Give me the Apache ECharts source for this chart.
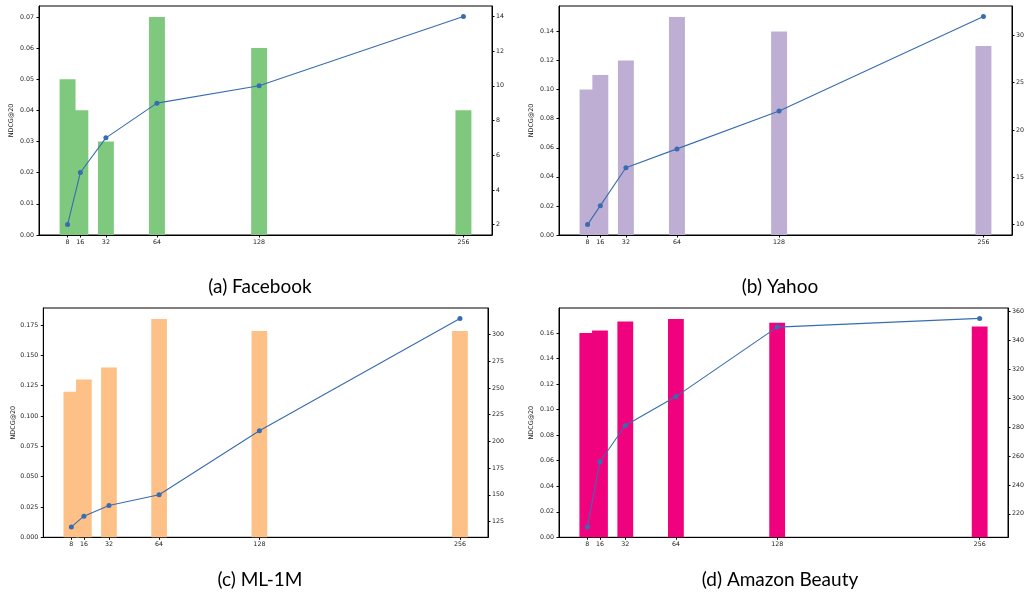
<!DOCTYPE html>
<html>
<head>
<meta charset="utf-8">
<script src="https://cdn.jsdelivr.net/npm/echarts@6/dist/echarts.min.js"></script>
<style>
html,body{margin:0;padding:0;background:#fff;}
#c{width:1033px;height:602px;}
</style>
</head>
<body>
<div id="c"></div>
<script>
// ---- data ----
const dims = [8, 16, 32, 64, 128, 256];
const xTicks = [8, 16, 32, 64, 128, 256];

const titles = ['(a) Facebook', '(b) Yahoo', '(c) ML-1M', '(d) Amazon Beauty'];
const barColors = ['#7fc97f', '#beaed4', '#fdc086', '#f0027f'];
const lineColor = '#386cb0';

const ndcgFacebook = [0.05, 0.04, 0.03, 0.07, 0.06, 0.04];
const ndcgYahoo = [0.10, 0.11, 0.12, 0.15, 0.14, 0.13];
const ndcgML1M = [0.12, 0.13, 0.14, 0.18, 0.17, 0.17];
const ndcgBeauty = [0.160, 0.162, 0.169, 0.171, 0.168, 0.165];

const timeFacebook = [2, 5, 7, 9, 10, 14];
const timeYahoo = [10, 12, 16, 18, 22, 32];
const timeML1M = [120, 130, 140, 150, 210, 315];
const timeBeauty = [211, 256, 281, 301, 349, 355];

const leftTicksFacebook = [0, 0.01, 0.02, 0.03, 0.04, 0.05, 0.06, 0.07];
const leftTicksYahoo = [0, 0.02, 0.04, 0.06, 0.08, 0.10, 0.12, 0.14];
const leftTicksML1M = [0, 0.025, 0.05, 0.075, 0.1, 0.125, 0.15, 0.175];
const leftTicksBeauty = [0, 0.02, 0.04, 0.06, 0.08, 0.10, 0.12, 0.14, 0.16];

const rightTicksFacebook = [2, 4, 6, 8, 10, 12, 14];
const rightTicksYahoo = [10, 15, 20, 25, 30];
const rightTicksML1M = [125, 150, 175, 200, 225, 250, 275, 300];
const rightTicksBeauty = [220, 240, 260, 280, 300, 320, 340, 360];

const leftDecimals = [2, 2, 3, 2];
const yLabel = 'NDCG@20';

// ---- layout ----
const panels = [
  {bars: ndcgFacebook, line: timeFacebook, lt: leftTicksFacebook, rt: rightTicksFacebook,
   grid: {left: 39, top: 6, width: 453, height: 229}, title: {x: 255, y: 272}},
  {bars: ndcgYahoo, line: timeYahoo, lt: leftTicksYahoo, rt: rightTicksYahoo,
   grid: {left: 559, top: 6, width: 453, height: 229}, title: {x: 775, y: 272}},
  {bars: ndcgML1M, line: timeML1M, lt: leftTicksML1M, rt: rightTicksML1M,
   grid: {left: 43.3, top: 308, width: 444.7, height: 229.3}, title: {x: 255, y: 565}},
  {bars: ndcgBeauty, line: timeBeauty, lt: leftTicksBeauty, rt: rightTicksBeauty,
   grid: {left: 559, top: 308, width: 449, height: 229.3}, title: {x: 775, y: 565}}
];

const barUnits = 10;
const xMinData = dims[0] - barUnits / 2, xMaxData = dims[dims.length - 1] + barUnits / 2;
const xMargin = 0.05 * (xMaxData - xMinData);
const xMin = xMinData - xMargin, xMax = xMaxData + xMargin;

const tickFont = {fontFamily: 'DejaVu Sans', fontSize: 6.3, color: '#222'};

const option = {
  animation: false,
  backgroundColor: '#fff',
  title: [], grid: [], xAxis: [], yAxis: [], series: []
};

panels.forEach((p, i) => {
  option.grid.push(Object.assign({show: true, borderColor: '#000', borderWidth: 1, containLabel: false}, p.grid));
  option.title.push({
    text: titles[i], left: p.title.x, top: p.title.y, textAlign: 'center',
    textStyle: {fontFamily: 'Lato', fontWeight: 'normal', fontSize: 19, color: '#000'}
  });
  option.xAxis.push({
    type: 'value', gridIndex: i, min: xMin, max: xMax,
    splitLine: {show: false},
    axisLine: {show: true, onZero: false, lineStyle: {color: '#000', width: 1}},
    axisTick: {show: true, length: 2.5, lineStyle: {color: '#000'}, customValues: xTicks},
    axisLabel: Object.assign({margin: 4, customValues: xTicks, formatter: v => String(v)}, tickFont)
  });
  const bmax = Math.max(...p.bars) * 1.05;
  const lmin = Math.min(...p.line), lmax = Math.max(...p.line);
  const lr = lmax - lmin;
  const dec = leftDecimals[i];
  option.yAxis.push({
    type: 'value', gridIndex: i, min: 0, max: bmax, position: 'left',
    name: yLabel, nameLocation: 'middle', nameRotate: 90, nameGap: 25,
    nameTextStyle: {fontFamily: 'DejaVu Sans', fontSize: 6.4, color: '#222'},
    splitLine: {show: false},
    axisLine: {show: true, onZero: false, lineStyle: {color: '#000', width: 1}},
    axisTick: {show: true, length: 2.5, lineStyle: {color: '#000'}, customValues: p.lt},
    axisLabel: Object.assign({margin: 5, customValues: p.lt, formatter: v => v.toFixed(dec)}, tickFont)
  });
  option.yAxis.push({
    type: 'value', gridIndex: i, min: lmin - 0.05 * lr, max: lmax + 0.05 * lr, position: 'right',
    splitLine: {show: false},
    axisLine: {show: true, onZero: false, lineStyle: {color: '#000', width: 1}},
    axisTick: {show: true, length: 2.5, lineStyle: {color: '#000'}, customValues: p.rt},
    axisLabel: Object.assign({margin: 4, customValues: p.rt, formatter: v => String(v)}, tickFont)
  });
  const bw = p.grid.width * barUnits / (xMax - xMin);
  option.series.push({
    type: 'bar', xAxisIndex: i, yAxisIndex: 2 * i, barWidth: bw,
    itemStyle: {color: barColors[i]},
    data: dims.map((d, k) => [d, p.bars[k]]), z: 2
  });
  option.series.push({
    type: 'line', xAxisIndex: i, yAxisIndex: 2 * i + 1,
    symbol: 'circle', symbolSize: 5,
    lineStyle: {color: lineColor, width: 1.1},
    itemStyle: {color: lineColor},
    data: dims.map((d, k) => [d, p.line[k]]), z: 3
  });
});

const chart = echarts.init(document.getElementById('c'), null, {renderer: 'canvas'});
chart.setOption(option);
</script>
</body>
</html>
